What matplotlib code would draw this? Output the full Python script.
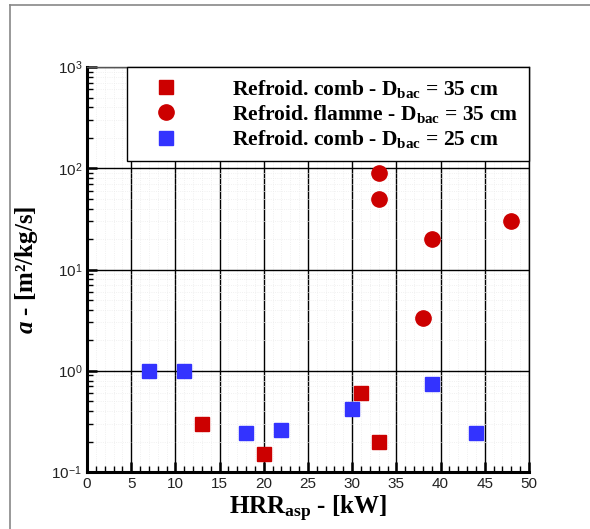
"""
Coefficient a versus HRR_asp, log scale, three series of measurements.
"""

import matplotlib
matplotlib.use("Agg")
import matplotlib.pyplot as plt
from matplotlib.lines import Line2D
from matplotlib.ticker import MultipleLocator, LogLocator, FixedFormatter

plt.rcParams['mathtext.fontset'] = 'custom'
plt.rcParams['mathtext.it'] = 'Liberation Serif:italic:bold'
plt.rcParams['mathtext.rm'] = 'Liberation Serif:bold'

# Refroid. comb - Dbac = 35 cm
comb35_hrr = [13, 20, 31, 33]
comb35_a = [0.30, 0.15, 0.60, 0.20]

# Refroid. flamme - Dbac = 35 cm
flamme35_hrr = [33, 33, 39, 48, 38]
flamme35_a = [90, 50, 20, 30, 3.3]

# Refroid. comb - Dbac = 25 cm
comb25_hrr = [7, 11, 18, 22, 30, 39, 44]
comb25_a = [1.0, 1.0, 0.245, 0.26, 0.42, 0.74, 0.245]

LABELS = [
    r'Refroid. comb - D$_{\mathregular{bac}}$ = 35 cm',
    r'Refroid. flamme - D$_{\mathregular{bac}}$ = 35 cm',
    r'Refroid. comb - D$_{\mathregular{bac}}$ = 25 cm',
]
Y_TICK_LABELS = [r'10$^{\mathregular{-1}}$', r'10$^{\mathregular{0}}$',
                 r'10$^{\mathregular{1}}$', r'10$^{\mathregular{2}}$',
                 r'10$^{\mathregular{3}}$']

RED = '#cc0000'
BLUE = '#3333ff'

fig = plt.figure(figsize=(5.9, 5.29), dpi=100)
ax = fig.add_axes([0.1475, 0.1077, 0.749, 0.7656])

ax.plot(comb35_hrr, comb35_a, 's', color=RED, markersize=9.5, label=LABELS[0], zorder=3)
ax.plot(flamme35_hrr, flamme35_a, 'o', color=RED, markersize=11, label=LABELS[1], zorder=3)
ax.plot(comb25_hrr, comb25_a, 's', color=BLUE, markersize=9.5, label=LABELS[2], zorder=3)

ax.set_yscale('log')
ax.set_xlim(0, 50)
ax.set_ylim(0.1, 1000)

ax.xaxis.set_major_locator(MultipleLocator(5))
ax.xaxis.set_minor_locator(MultipleLocator(1))
ax.yaxis.set_minor_locator(LogLocator(base=10, subs=range(2, 10), numticks=50))
ax.set_yticks([0.1, 1, 10, 100, 1000])
ax.yaxis.set_major_formatter(FixedFormatter(Y_TICK_LABELS))

ax.grid(True, which='major', color='black', linewidth=1.0)
ax.grid(True, which='minor', color='#ececec', linewidth=0.6, linestyle=':')
ax.set_axisbelow(True)

ax.tick_params(which='both', direction='in', top=False, right=False,
               labelsize=11, labelcolor='#222222')
ax.tick_params(which='major', length=7, width=1.8)
ax.tick_params(which='minor', length=4, width=1.0)
for lab in ax.get_xticklabels() + ax.get_yticklabels():
    lab.set_family('Liberation Sans')

ax.spines['left'].set_linewidth(2.2)
ax.spines['bottom'].set_linewidth(2.2)
ax.spines['right'].set_linewidth(1.0)
ax.spines['top'].set_linewidth(1.0)
ax.spines['top'].set_color('#555555')

ax.set_xlabel(r'HRR$_{\mathregular{asp}}$ - [kW]', fontsize=18, fontweight='bold',
              family='Liberation Serif', labelpad=2)
ax.set_ylabel(r'$a$ - [m²/kg/s]', fontsize=18, fontweight='bold',
              family='Liberation Serif', labelpad=8)

leg = ax.legend(loc='upper right', bbox_to_anchor=(1.0, 1.0), borderaxespad=0,
                fancybox=False, framealpha=1, edgecolor='black',
                prop={'family': 'Liberation Serif', 'weight': 'bold', 'size': 15.5},
                handlelength=2.7, handletextpad=1.7, borderpad=0.5,
                labelspacing=0.15)
leg.get_frame().set_linewidth(1.0)
leg.set_zorder(5)

# outer page frame
fig.add_artist(Line2D([10 / 590, 10 / 590], [0, 1 - 5 / 529], color='#888888', linewidth=1.2))
fig.add_artist(Line2D([10 / 590, 1], [1 - 5 / 529, 1 - 5 / 529], color='#888888', linewidth=1.2))

fig.savefig('out.png', dpi=100)
